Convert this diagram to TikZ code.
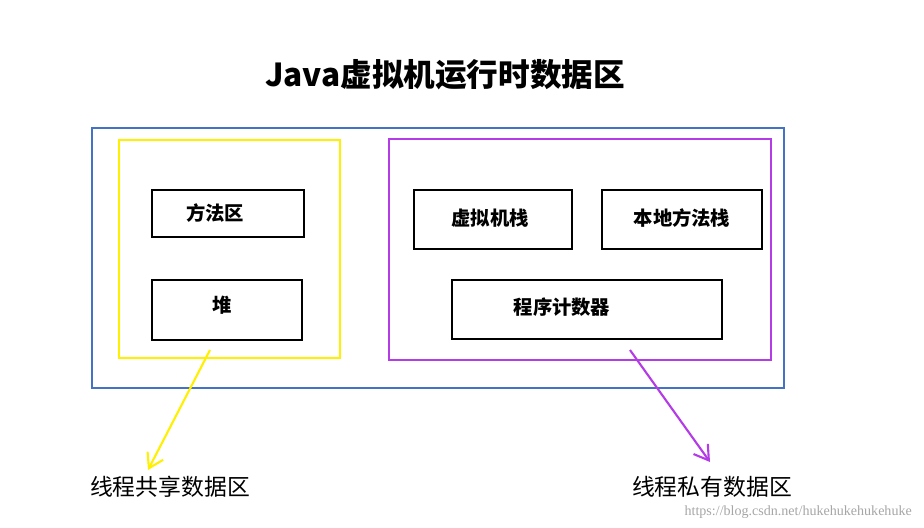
\documentclass[tikz,border=0pt]{standalone}
\usepackage{fontspec}
\setmainfont{Liberation Serif}
\newfontfamily\cjk{Noto Sans CJK SC}
\usetikzlibrary{arrows.meta}
\begin{document}
\begin{tikzpicture}[x=0.02cm,y=-0.02cm,
  box/.style={draw=black,line width=1.2pt},
  lbl/.style={font=\cjk\bfseries\fontsize{11pt}{12pt}\selectfont},
  note/.style={font=\cjk\fontsize{13pt}{14pt}\selectfont}]
\useasboundingbox (0,0) rectangle (924,528);
\node (title) at (445,75) {\cjk\bfseries\fontsize{18pt}{20pt}\selectfont Java虚拟机运行时数据区};
\draw[color={rgb,255:red,68;green,114;blue,196},line width=1.2pt] (92,128) rectangle (784,388);
\draw[color={rgb,255:red,255;green,240;blue,0},line width=1.5pt] (119,140) rectangle (340,358);
\draw[color={rgb,255:red,180;green,60;blue,230},line width=1.5pt] (389,139) rectangle (771,360);
\draw[box] (152,190) rectangle (304,237); \node[lbl] (m) at (215,213) {方法区};
\draw[box] (152,280) rectangle (302,340); \node[lbl] (h) at (222,305) {堆};
\draw[box] (414,190) rectangle (572,249); \node[lbl] (v) at (490,218) {虚拟机栈};
\draw[box] (602,190) rectangle (762,249); \node[lbl] (n) at (682,218) {本地方法栈};
\draw[box] (452,280) rectangle (722,339); \node[lbl] (c) at (562,307) {程序计数器};
\coordinate (ya) at (210,350); \coordinate (yb) at (148,470);
\coordinate (pa) at (630,350); \coordinate (pb) at (710,462);
\draw[color={rgb,255:red,255;green,240;blue,0},line width=1.2pt,-{Straight Barb[length=8pt,width=10pt]}] (ya) -- (yb);
\draw[color={rgb,255:red,180;green,60;blue,230},line width=1.2pt,-{Straight Barb[length=8pt,width=10pt]}] (pa) -- (pb);
\node[note] (s) at (170,487) {线程共享数据区};
\node[note] (p) at (712,487) {线程私有数据区};
\node[font=\fontsize{8pt}{9pt}\selectfont,text=gray!70,anchor=east] (w) at (918,512) {https://blog.csdn.net/hukehukehukehuke};
\end{tikzpicture}
\end{document}
